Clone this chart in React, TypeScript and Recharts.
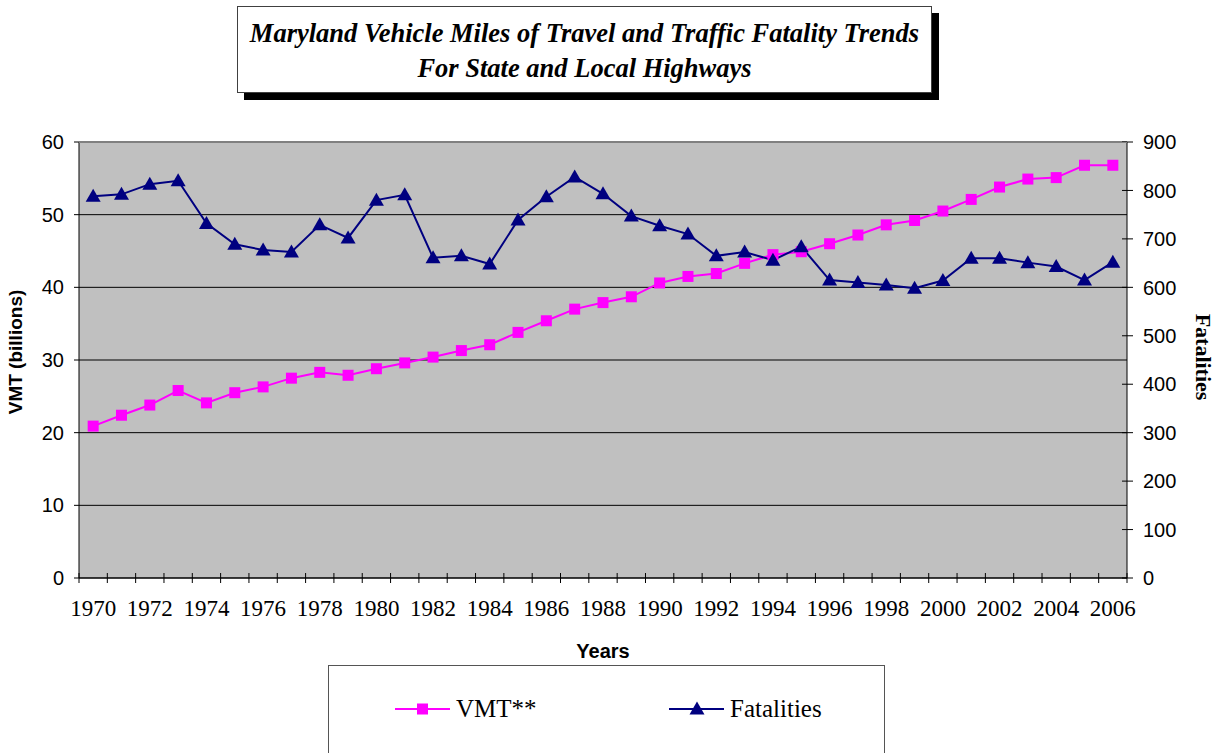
import React from 'react';
import { ComposedChart, Line, XAxis, YAxis, CartesianGrid } from 'recharts';

const years = [
  1970, 1971, 1972, 1973, 1974, 1975, 1976, 1977, 1978, 1979,
  1980, 1981, 1982, 1983, 1984, 1985, 1986, 1987, 1988, 1989,
  1990, 1991, 1992, 1993, 1994, 1995, 1996, 1997, 1998, 1999,
  2000, 2001, 2002, 2003, 2004, 2005, 2006,
];

// VMT in billions (left axis)
const vmt = [
  20.9, 22.4, 23.8, 25.8, 24.1, 25.5, 26.3, 27.5, 28.3, 27.9,
  28.8, 29.6, 30.4, 31.3, 32.1, 33.8, 35.4, 37.0, 37.9, 38.7,
  40.6, 41.5, 41.9, 43.3, 44.5, 44.9, 46.0, 47.2, 48.6, 49.2,
  50.5, 52.1, 53.8, 54.9, 55.1, 56.8, 56.8,
];

// traffic fatalities (right axis)
const fatalities = [
  788, 792, 813, 820, 732, 689, 677, 673, 729, 702,
  780, 791, 661, 665, 648, 739, 787, 828, 793, 747,
  727, 710, 665, 673, 656, 684, 615, 610, 605, 598,
  614, 660, 660, 651, 643, 615, 652,
];

const vmtTicks = [0, 10, 20, 30, 40, 50, 60];
const fatalTicks = [0, 100, 200, 300, 400, 500, 600, 700, 800, 900];

const data = years.map((y, i) => ({ year: y, vmt: vmt[i], fatalities: fatalities[i] }));

const PLOT_LEFT = 79;
const PLOT_RIGHT = 1127;
const HALF_BAND = (PLOT_RIGHT - PLOT_LEFT) / years.length / 2;

const SERIF = '"Liberation Serif", "Times New Roman", serif';
const SANS = '"Liberation Sans", Arial, sans-serif';

const PINK = '#FF00FF';
const NAVY = '#000080';

function SquareDot({ cx, cy, index }: any) {
  if (cx == null || cy == null) return null;
  return <rect key={'s' + index} x={cx - 5.5} y={cy - 5.5} width={11} height={11} fill={PINK} />;
}

function TriangleDot({ cx, cy, index }: any) {
  if (cx == null || cy == null) return null;
  return (
    <polygon
      key={'t' + index}
      points={`${cx},${cy - 7.5} ${cx + 7.5},${cy + 5.5} ${cx - 7.5},${cy + 5.5}`}
      fill={NAVY}
    />
  );
}

function XTick({ x, y, payload, index }: any) {
  const last = index === years.length - 1;
  return (
    <g>
      <line x1={x - HALF_BAND} x2={x - HALF_BAND} y1={y - 5} y2={y + 5} stroke="#000" />
      {last && <line x1={x + HALF_BAND} x2={x + HALF_BAND} y1={y - 5} y2={y + 5} stroke="#000" />}
      {index % 2 === 0 && (
        <text x={x} y={y + 38} textAnchor="middle" fontFamily={SERIF} fontSize={23} fill="#000">
          {payload.value}
        </text>
      )}
    </g>
  );
}

function RightTick({ x, y, payload }: any) {
  return (
    <g>
      <line x1={x - 5} x2={x + 6} y1={y} y2={y} stroke="#000" />
      <text x={x + 16} y={y} dy="0.36em" textAnchor="start" fontFamily={SANS} fontSize={20} fill="#000">
        {payload.value}
      </text>
    </g>
  );
}

export default function App() {
  return (
    <div style={{ position: 'absolute', left: 0, top: 0, width: 1217, height: 753, overflow: 'hidden', background: '#fff' }}>
      <div
        style={{
          position: 'absolute',
          left: 237,
          top: 6,
          width: 695,
          height: 87,
          border: '1px solid #404040',
          boxShadow: '7px 7px 0 #000',
          background: '#fff',
          textAlign: 'center',
          fontFamily: SERIF,
          fontWeight: 'bold',
          fontStyle: 'italic',
          fontSize: 26.5,
          lineHeight: '35px',
          paddingTop: 9,
          boxSizing: 'border-box',
          whiteSpace: 'nowrap',
        }}
      >
        Maryland Vehicle Miles of Travel and Traffic Fatality Trends
        <br />
        For State and Local Highways
      </div>

      <div style={{ position: 'absolute', left: 0, top: 0 }}>
        <ComposedChart width={1217} height={753} data={data} margin={{ top: 142, right: 30, bottom: 135, left: 30 }}>
          <CartesianGrid yAxisId="left" vertical={false} fill="#C0C0C0" fillOpacity={1} stroke="#000" />
          <XAxis
            dataKey="year"
            scale="band"
            interval={0}
            height={40}
            tick={<XTick />}
            tickLine={false}
            tickSize={0}
            tickMargin={0}
            axisLine={{ stroke: '#000' }}
          />
          <YAxis
            yAxisId="left"
            width={49}
            domain={[0, 60]}
            ticks={vmtTicks}
            tickSize={5}
            tickMargin={10}
            tickLine={{ stroke: '#000' }}
            axisLine={{ stroke: '#000' }}
            tick={{ fontFamily: SANS, fontSize: 20, fill: '#000' }}
          />
          <YAxis
            yAxisId="right"
            orientation="right"
            width={60}
            domain={[0, 900]}
            ticks={fatalTicks}
            tickSize={0}
            tickMargin={0}
            tickLine={false}
            axisLine={{ stroke: '#000' }}
            tick={<RightTick />}
          />
          <Line
            yAxisId="left"
            dataKey="vmt"
            stroke={PINK}
            strokeWidth={2}
            dot={<SquareDot />}
            activeDot={false}
            isAnimationActive={false}
          />
          <Line
            yAxisId="right"
            dataKey="fatalities"
            stroke={NAVY}
            strokeWidth={2}
            dot={<TriangleDot />}
            activeDot={false}
            isAnimationActive={false}
          />
        </ComposedChart>
      </div>

      <svg width={1217} height={753} style={{ position: 'absolute', left: 0, top: 0, pointerEvents: 'none' }}>
        <line x1={79} x2={1127} y1={142.5} y2={142.5} stroke="#808080" />
        <text
          transform="translate(22,352) rotate(-90)"
          textAnchor="middle"
          fontFamily={SANS}
          fontWeight="bold"
          fontSize={19}
          fill="#000"
        >
          VMT (billions)
        </text>
        <text
          transform="translate(1196,357) rotate(90)"
          textAnchor="middle"
          fontFamily={SERIF}
          fontWeight="bold"
          fontSize={22}
          fill="#000"
        >
          Fatalities
        </text>
        <text x={603} y={658} textAnchor="middle" fontFamily={SANS} fontWeight="bold" fontSize={20} fill="#000">
          Years
        </text>

        <rect x={328.5} y={665.5} width={556} height={100} fill="#fff" stroke="#555" />
        <line x1={395} x2={450} y1={709} y2={709} stroke={PINK} strokeWidth={2} />
        <rect x={417} y={703.5} width={11} height={11} fill={PINK} />
        <text x={456} y={717} fontFamily={SERIF} fontSize={25} fill="#000">VMT**</text>
        <line x1={669} x2={724} y1={709} y2={709} stroke={NAVY} strokeWidth={2} />
        <polygon points="697,701.5 704.5,714.5 689.5,714.5" fill={NAVY} />
        <text x={730} y={717} fontFamily={SERIF} fontSize={25} fill="#000">Fatalities</text>
      </svg>
    </div>
  );
}
